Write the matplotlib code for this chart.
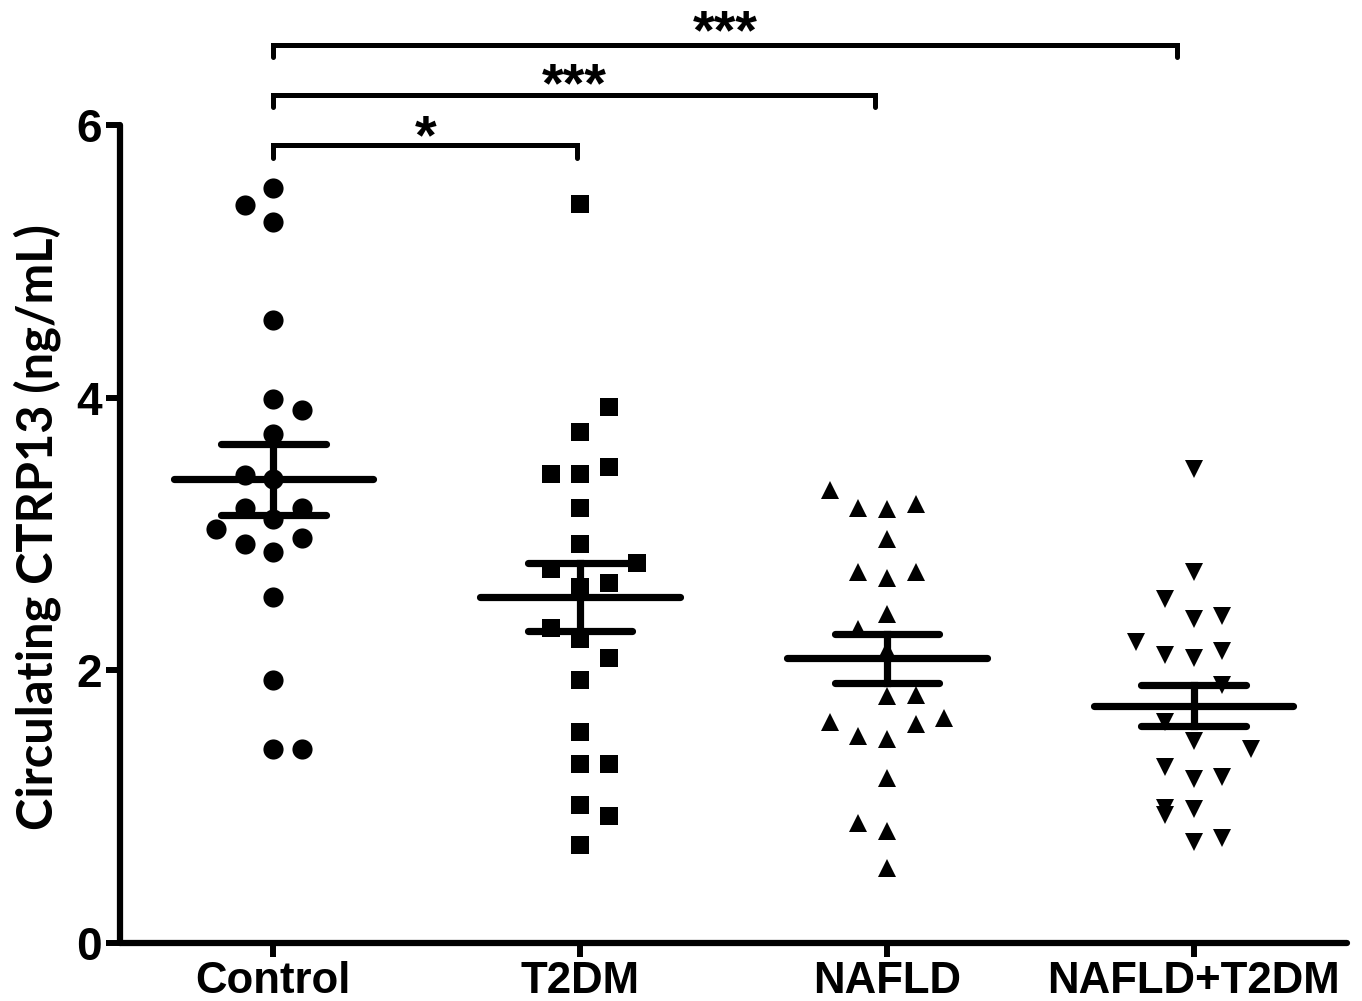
import matplotlib
matplotlib.use("Agg")
import matplotlib.pyplot as plt
import numpy as np

categories = ["Control", "T2DM", "NAFLD", "NAFLD+T2DM"]

control = [5.54, 5.41, 5.29, 4.57, 3.99, 3.91, 3.73, 3.43, 3.40, 3.19, 3.19, 3.11,
           3.04, 2.93, 2.97, 2.87, 2.54, 1.93, 1.42, 1.42]
t2dm = [5.42, 3.93, 3.75, 3.44, 3.44, 3.49, 3.19, 2.93, 2.79, 2.74, 2.61, 2.64,
        2.31, 2.23, 2.09, 1.93, 1.55, 1.31, 1.31, 1.01, 0.93, 0.72]
nafld = [3.32, 3.19, 3.18, 3.22, 2.96, 2.72, 2.68, 2.72, 2.41, 2.30, 2.15, 1.81,
         1.82, 1.62, 1.52, 1.50, 1.61, 1.65, 1.21, 0.88, 0.82, 0.55]
nafld_t2dm = [3.48, 2.72, 2.52, 2.38, 2.40, 2.21, 2.11, 2.09, 2.14, 1.89, 1.62,
              1.48, 1.42, 1.29, 1.20, 1.22, 0.99, 0.94, 0.98, 0.74, 0.77]

means = [3.40, 2.54, 2.09, 1.74]
sems = [0.26, 0.25, 0.18, 0.15]

# significance comparisons: (group a, group b, label)
comparisons = [(0, 1, "*"), (0, 2, "***"), (0, 3, "***")]
ytick_values = [0, 2, 4, 6]

# swarm slot of each point (layout only)
slots_control = [0, -1, 0, 0, 0, 1, 0, -1, 0, -1, 1, 0, -2, -1, 1, 0, 0, 0, 0, 1]
slots_t2dm = [0, 1, 0, -1, 0, 1, 0, 0, 2, -1, 0, 1, -1, 0, 1, 0, 0, 0, 1, 0, 1, 0]
slots_nafld = [-2, -1, 0, 1, 0, -1, 0, 1, 0, -1, 0, 0, 1, -2, -1, 0, 1, 2, 0, -1, 0, 0]
slots_nt = [0, 0, -1, 0, 1, -2, -1, 0, 1, 1, -1, 0, 2, -1, 0, 1, -1, -1, 0, 0, 1]

groups = [control, t2dm, nafld, nafld_t2dm]
slots = [slots_control, slots_t2dm, slots_nafld, slots_nt]
markers = ["o", "s", "^", "v"]

fig = plt.figure(figsize=(13.62, 10.01), dpi=100)
ax = fig.add_axes([120/1362, 1-943/1001, 1227/1362, 818/1001])

slot_w = 0.0935
for i, (vals, sl, m) in enumerate(zip(groups, slots, markers)):
    xs = i + np.array(sl) * slot_w
    ax.plot(xs, vals, linestyle="none", marker=m, color="black",
            markersize=14.5 if m == "o" else 13.5, markeredgewidth=0, zorder=3)

for i, (mu, se) in enumerate(zip(means, sems)):
    ax.plot([i - 0.325, i + 0.325], [mu, mu], color="black", lw=5.2,
            solid_capstyle="round", zorder=4)
    ax.plot([i, i], [mu - se, mu + se], color="black", lw=5.2, zorder=4)
    for yv in (mu - se, mu + se):
        ax.plot([i - 0.17, i + 0.17], [yv, yv], color="black", lw=5.2,
                solid_capstyle="round", zorder=4)

ax.set_xlim(-0.5, 3.5)
ax.set_ylim(0, 6)

ax.set_xticks(range(len(categories)))
ax.set_xticklabels(categories, fontsize=31.5, fontweight="bold",
                   fontfamily="Liberation Sans")
ax.set_yticks(ytick_values)
ax.set_yticklabels([str(v) for v in ytick_values], fontsize=33, fontweight="bold",
                   fontfamily="Liberation Sans")
ax.tick_params(axis="both", width=4.3, length=10, direction="out", pad=3)
ax.tick_params(axis="y", pad=3)

for s in ("top", "right"):
    ax.spines[s].set_visible(False)
for s in ("left", "bottom"):
    ax.spines[s].set_linewidth(4.5)
    ax.spines[s].set_capstyle("round")

ax.set_ylabel("Circulating CTRP13 (ng/mL)", fontsize=35, fontweight="bold",
              fontfamily="Lato")
ax.yaxis.set_label_coords(-0.048, 0.508)

# significance brackets
bracket_y = [5.85, 6.22, 6.59]
bracket_end = [0.99, 1.96, 2.945]
star_offset = [0.18, 0.19, 0.21]
drop = 0.09
for (a, b, lab), yb, xe, so in zip(comparisons, bracket_y, bracket_end, star_offset):
    ax.plot([a, a, xe, xe], [yb - drop, yb, yb, yb - drop], color="black", lw=3.6,
            solid_capstyle="round", solid_joinstyle="miter", clip_on=False, zorder=5)
    ax.text((a + xe) / 2, yb + so - 0.235, lab, ha="center", va="baseline",
            fontsize=40, fontweight="bold", fontfamily="Liberation Sans",
            clip_on=False)

fig.savefig("out.png", dpi=100)
